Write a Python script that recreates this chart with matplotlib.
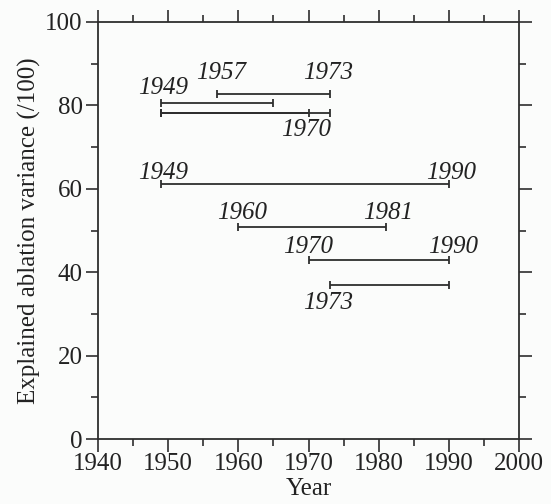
import matplotlib
matplotlib.use("Agg")
import matplotlib.pyplot as plt
from matplotlib.ticker import MultipleLocator

# Interval data (start year, end year, explained variance)
starts = [1957, 1949, 1949, 1949, 1949, 1960, 1970, 1973]
ends = [1973, 1965, 1970, 1973, 1990, 1981, 1990, 1990]
variance = [82.7, 80.5, 78.2, 78.2, 61.1, 50.8, 42.9, 36.9]

# Annotation labels (text, x year, y value)
label_texts = ["1957", "1973", "1949", "1970", "1949", "1990",
               "1960", "1981", "1970", "1990", "1973"]
label_x = [1957.5, 1972.8, 1949.3, 1969.7, 1949.3, 1990.3,
           1960.5, 1981.3, 1970.0, 1990.6, 1972.8]
label_y = [87.8, 87.8, 84.1, 74.1, 63.9, 63.9, 54.1, 54.1, 46.1, 46.1, 32.6]

plt.rcParams['font.family'] = ['Liberation Serif', 'DejaVu Serif']
fs = 18
col = '#2e2e2e'

fig = plt.figure(figsize=(5.51, 5.04), dpi=100, facecolor='#fbfcfb')
ax = fig.add_axes([98/551, 1-439/504, (519-98)/551, (439-22)/504])
ax.set_facecolor('#fbfcfb')

for s, e, v in zip(starts, ends, variance):
    ax.plot([s, e], [v, v], color=col, lw=1.3, marker='|', ms=6, mew=1.3,
            solid_capstyle='butt')

for t, x, y in zip(label_texts, label_x, label_y):
    ax.text(x, y, t, fontsize=fs, style='italic', ha='center', va='center',
            color='#222222')

ax.set_xlim(1940, 2000)
ax.set_ylim(0, 100)
ax.xaxis.set_major_locator(MultipleLocator(10))
ax.xaxis.set_minor_locator(MultipleLocator(5))
ax.yaxis.set_major_locator(MultipleLocator(20))
ax.yaxis.set_minor_locator(MultipleLocator(10))
ax.tick_params(which='both', direction='out', top=True, right=True,
               color=col, width=1.2, labelsize=fs, labelcolor='#222222')
ax.tick_params(which='major', length=9)
ax.tick_params(which='minor', length=5)
ax.tick_params(axis='x', pad=1)
ax.tick_params(axis='y', pad=2)
for sp in ax.spines.values():
    sp.set_color(col)
    sp.set_linewidth(1.3)

ax.set_xlabel('Year', fontsize=fs, color='#222222', labelpad=2)
ax.set_ylabel('Explained ablation variance (/100)', fontsize=fs,
              color='#222222', labelpad=3)

fig.savefig('out.png', dpi=100, facecolor=fig.get_facecolor())
